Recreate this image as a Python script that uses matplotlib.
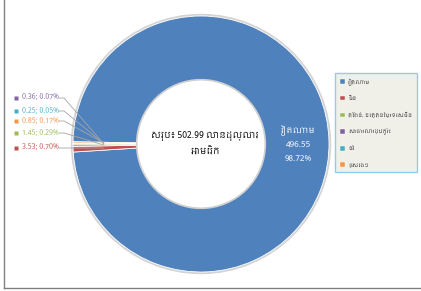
import matplotlib
matplotlib.use('Agg')
import matplotlib.pyplot as plt
from matplotlib import font_manager
from matplotlib.lines import Line2D
from matplotlib.patches import Circle
import numpy as np

# data
countries = ['វៀតណាម', 'ចិន', 'តៃវ៉ាន់, ខេត្តនៃប្រទេសចិន',
             'សាធារណរដ្ឋកូរ៉េ', 'ថៃ', 'ផ្សេងៗ']
values = [496.55, 3.53, 1.45, 0.36, 0.25, 0.85]
percents = [98.72, 0.70, 0.29, 0.07, 0.05, 0.17]
total = 502.99
colors = ['#4f81bd', '#c0504d', '#9bbb59', '#8064a2', '#4bacc6', '#f79646']
center_label = 'សរុប៖ {:.2f} លានដុល្លារ\nអាមេរិក'.format(total)

# pick a font that can show Khmer if there is one
names = sorted({f.name for f in font_manager.fontManager.ttflist})
khmer = [n for n in names if 'Khmer' in n]
plt.rcParams['font.family'] = khmer + ['DejaVu Sans']

W, H = 421, 291
fig = plt.figure(figsize=(W / 100, H / 100), dpi=100)
ax = fig.add_axes([0, 0, 1, 1])

cx, cy, R = 201, H - 144, 128

# soft shadow round the ring, hole kept white
ax.add_patch(Circle((cx, cy), R + 1.5, color='#d4d4d4', zorder=0))
ax.add_patch(Circle((cx, cy), R / 2 - 0.5, color='white', zorder=0.5))

wedges, _ = ax.pie(values, colors=colors, center=(cx, cy), radius=R,
                   startangle=179, counterclock=False,
                   wedgeprops=dict(width=R / 2, edgecolor='white', linewidth=0.6),
                   frame=True)
ax.set_xlim(0, W)
ax.set_ylim(0, H)
ax.set_aspect('equal')
ax.axis('off')
ax.add_patch(Circle((cx, cy), R / 2 + 0.3, fill=False, ec='#cfcfcf', lw=1.2, zorder=3))

# centre text
ax.text(cx + 4, cy, center_label, ha='center', va='center', fontsize=6.3,
        fontweight='bold', color='black', linespacing=1.9)

# label inside the big slice
ax.text(298, H - 144, '{}\n{:.2f}\n{:.2f}%'.format(countries[0], values[0], percents[0]),
        ha='center', va='center', color='white', fontsize=6, linespacing=1.7)

# small slices: labels on the left with leader lines
label_y = {1: 148, 2: 133, 5: 121, 4: 111, 3: 98}
for i, y in label_y.items():
    w = wedges[i]
    ang = np.deg2rad((w.theta1 + w.theta2) / 2)
    px, py = cx + 0.76 * R * np.cos(ang), cy + 0.76 * R * np.sin(ang)
    ty = H - y
    ax.plot([16], [ty], marker='s', ms=2.2, color=colors[i], mec='none')
    ax.text(22, ty, '{:.2f}; {:.2f}%'.format(values[i], percents[i]),
            ha='left', va='center', fontsize=5, fontweight='bold', color=colors[i])
    ax.plot([59, 64, px], [ty, ty, py], color='#a6a6a6', lw=0.6)

leg = fig.legend(wedges, countries, loc='upper left',
                 bbox_to_anchor=(335 / W, 1 - 73 / H), fontsize=3.9,
                 handlelength=1.0, handleheight=1.0, handletextpad=0.5,
                 labelspacing=2.0, borderpad=0.9, borderaxespad=0,
                 fancybox=False, facecolor='#f1f0e8', edgecolor='#92cde8',
                 framealpha=1, labelcolor='#333333')
leg.get_frame().set_linewidth(1)
for h in leg.legend_handles:
    h.set_edgecolor('white')
    h.set_linewidth(0.3)

# page border on left and bottom
fig.add_artist(Line2D([4 / W, 4 / W], [1, 3 / H], color='#808080', lw=1))
fig.add_artist(Line2D([4 / W, 1], [3 / H, 3 / H], color='#808080', lw=1))

fig.savefig('out.png', dpi=100)
